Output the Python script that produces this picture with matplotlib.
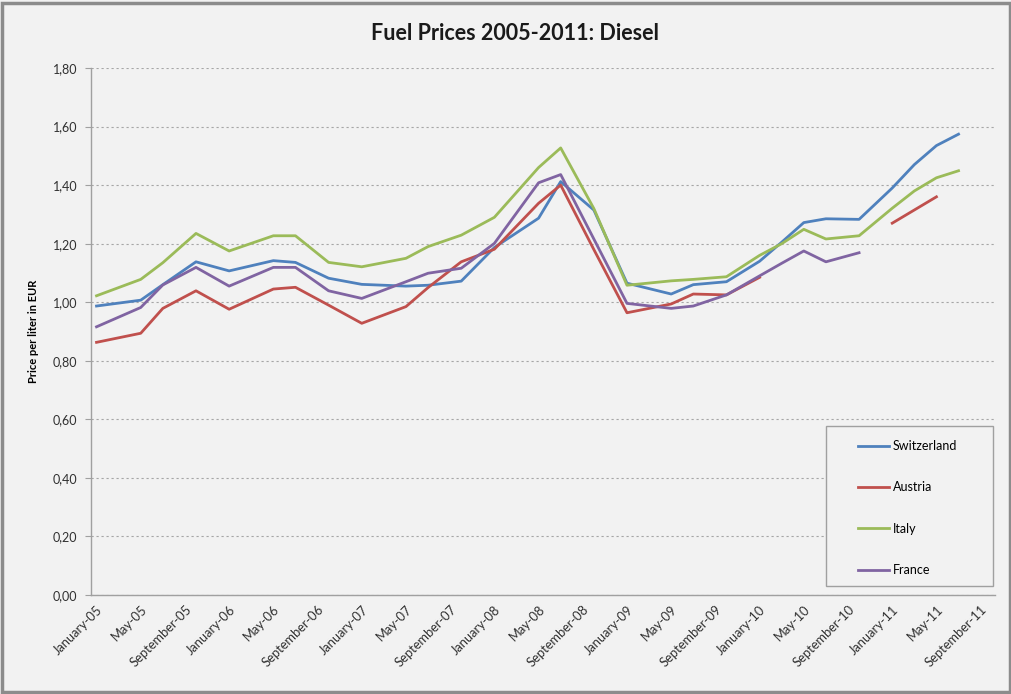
import numpy as np
import matplotlib
matplotlib.use("Agg")
import matplotlib.pyplot as plt
from matplotlib.patches import Rectangle

plt.rcParams['font.family'] = ['Lato', 'DejaVu Sans']

# Sample months, counted from January 2005 (0 = January-05)
months = [0, 4, 6, 9, 12, 16, 18, 21, 24, 28, 30, 33, 36, 40, 42, 45, 48,
          52, 54, 57, 60, 62, 64, 66, 69, 72, 74, 76, 78]

# Diesel price per liter in EUR (None = no data)
switzerland = [0.987, 1.007, 1.060, 1.138, 1.107, 1.142, 1.136, 1.082, 1.061,
               1.055, 1.058, 1.072, 1.187, 1.287, 1.412, 1.315, 1.065, 1.028,
               1.060, 1.070, 1.140, 1.205, 1.272, 1.285, 1.283, 1.390, 1.470,
               1.535, 1.574]
austria = [0.863, 0.894, 0.979, 1.039, 0.976, 1.045, 1.051, 0.990, 0.928,
           0.985, 1.050, 1.138, 1.181, 1.338, 1.400, 1.180, 0.964, 0.994,
           1.028, 1.025, 1.085, None, None, None, None, 1.270, 1.315,
           1.360, None]
italy = [1.022, 1.078, 1.135, 1.235, 1.175, 1.227, 1.227, 1.136, 1.121,
         1.150, 1.190, 1.229, 1.290, 1.460, 1.527, 1.320, 1.058, 1.073,
         1.078, 1.087, 1.160, 1.200, 1.249, 1.216, 1.227, 1.321, 1.380,
         1.425, 1.449]
france = [0.916, 0.982, 1.059, 1.119, 1.055, 1.119, 1.119, 1.039, 1.013,
          1.070, 1.099, 1.116, 1.201, 1.408, 1.436, 1.216, 0.996, 0.979,
          0.987, 1.025, 1.090, 1.133, 1.175, 1.138, 1.169, None, None,
          None, None]

series_names = ['Switzerland', 'Austria', 'Italy', 'France']
series_colors = ['#4F81BD', '#C0504D', '#9BBB59', '#8064A2']

# Category labels every four months
tick_months = list(range(0, 81, 4))
tick_labels = ['January-05', 'May-05', 'September-05', 'January-06', 'May-06',
               'September-06', 'January-07', 'May-07', 'September-07',
               'January-08', 'May-08', 'September-08', 'January-09', 'May-09',
               'September-09', 'January-10', 'May-10', 'September-10',
               'January-11', 'May-11', 'September-11']

y_ticks = [0.0, 0.2, 0.4, 0.6, 0.8, 1.0, 1.2, 1.4, 1.6, 1.8]

bg = '#F2F2F2'
fig = plt.figure(figsize=(10.12, 6.94), dpi=100, facecolor=bg)
ax = fig.add_axes([91 / 1012, 1 - 595 / 694, 904 / 1012, 527 / 694])
ax.set_facecolor(bg)

x = np.array(months, dtype=float)
handles = []
for name, vals, col in zip(series_names, [switzerland, austria, italy, france],
                           series_colors):
    y = np.array([np.nan if v is None else v for v in vals], dtype=float)
    h, = ax.plot(x, y, color=col, lw=2.0, label=name, solid_joinstyle='round')
    handles.append(h)

ax.set_xlim(-0.5, 81.3)
ax.set_ylim(0, 1.8)
ax.set_yticks(y_ticks)
ax.set_yticklabels([f'{v:.2f}'.replace('.', ',') for v in y_ticks],
                   fontsize=9, color='#303030')
ax.set_xticks(tick_months)
ax.set_xticklabels(tick_labels, rotation=45, ha='right',
                   rotation_mode='anchor', fontsize=9.3, color='#303030')
ax.tick_params(axis='x', length=0, pad=6)
ax.tick_params(axis='y', length=4, color='#A0A0A0', pad=6)

ax.grid(axis='y', linestyle=(0, (2, 2.5)), color='#A6A6A6', lw=0.8)
ax.set_axisbelow(True)
for s in ['top', 'right']:
    ax.spines[s].set_visible(False)
for s in ['left', 'bottom']:
    ax.spines[s].set_color('#A0A0A0')
    ax.spines[s].set_linewidth(1.0)

ax.set_ylabel('Price per liter in EUR', fontsize=8, fontweight='bold',
              labelpad=10)
fig.text(515 / 1012, 1 - 34 / 694, 'Fuel Prices 2005-2011: Diesel',
         ha='center', va='center', fontsize=15.5, fontweight='bold',
         color='#1A1A1A')

# Legend box
ax.add_patch(Rectangle(((826 - 91) / 904, (595 - 586) / 527),
                       167 / 904, 160 / 527, transform=ax.transAxes,
                       facecolor=bg, edgecolor='#A0A0A0', lw=1.0, zorder=3))
leg = ax.legend(handles=handles, loc='upper left',
                bbox_to_anchor=((858 - 91) / 904, (595 - 440) / 527),
                frameon=False, fontsize=9, handlelength=2.5,
                handletextpad=0.3, labelspacing=2.35, borderpad=0,
                borderaxespad=0)
leg.set_zorder(4)

# Outer border of the chart area
fig.add_artist(Rectangle((0.002, 0.003), 0.996, 0.993,
                         transform=fig.transFigure, fill=False,
                         edgecolor='#8C8C8C', lw=2.5))

fig.savefig('out.png', dpi=100, facecolor=bg)
